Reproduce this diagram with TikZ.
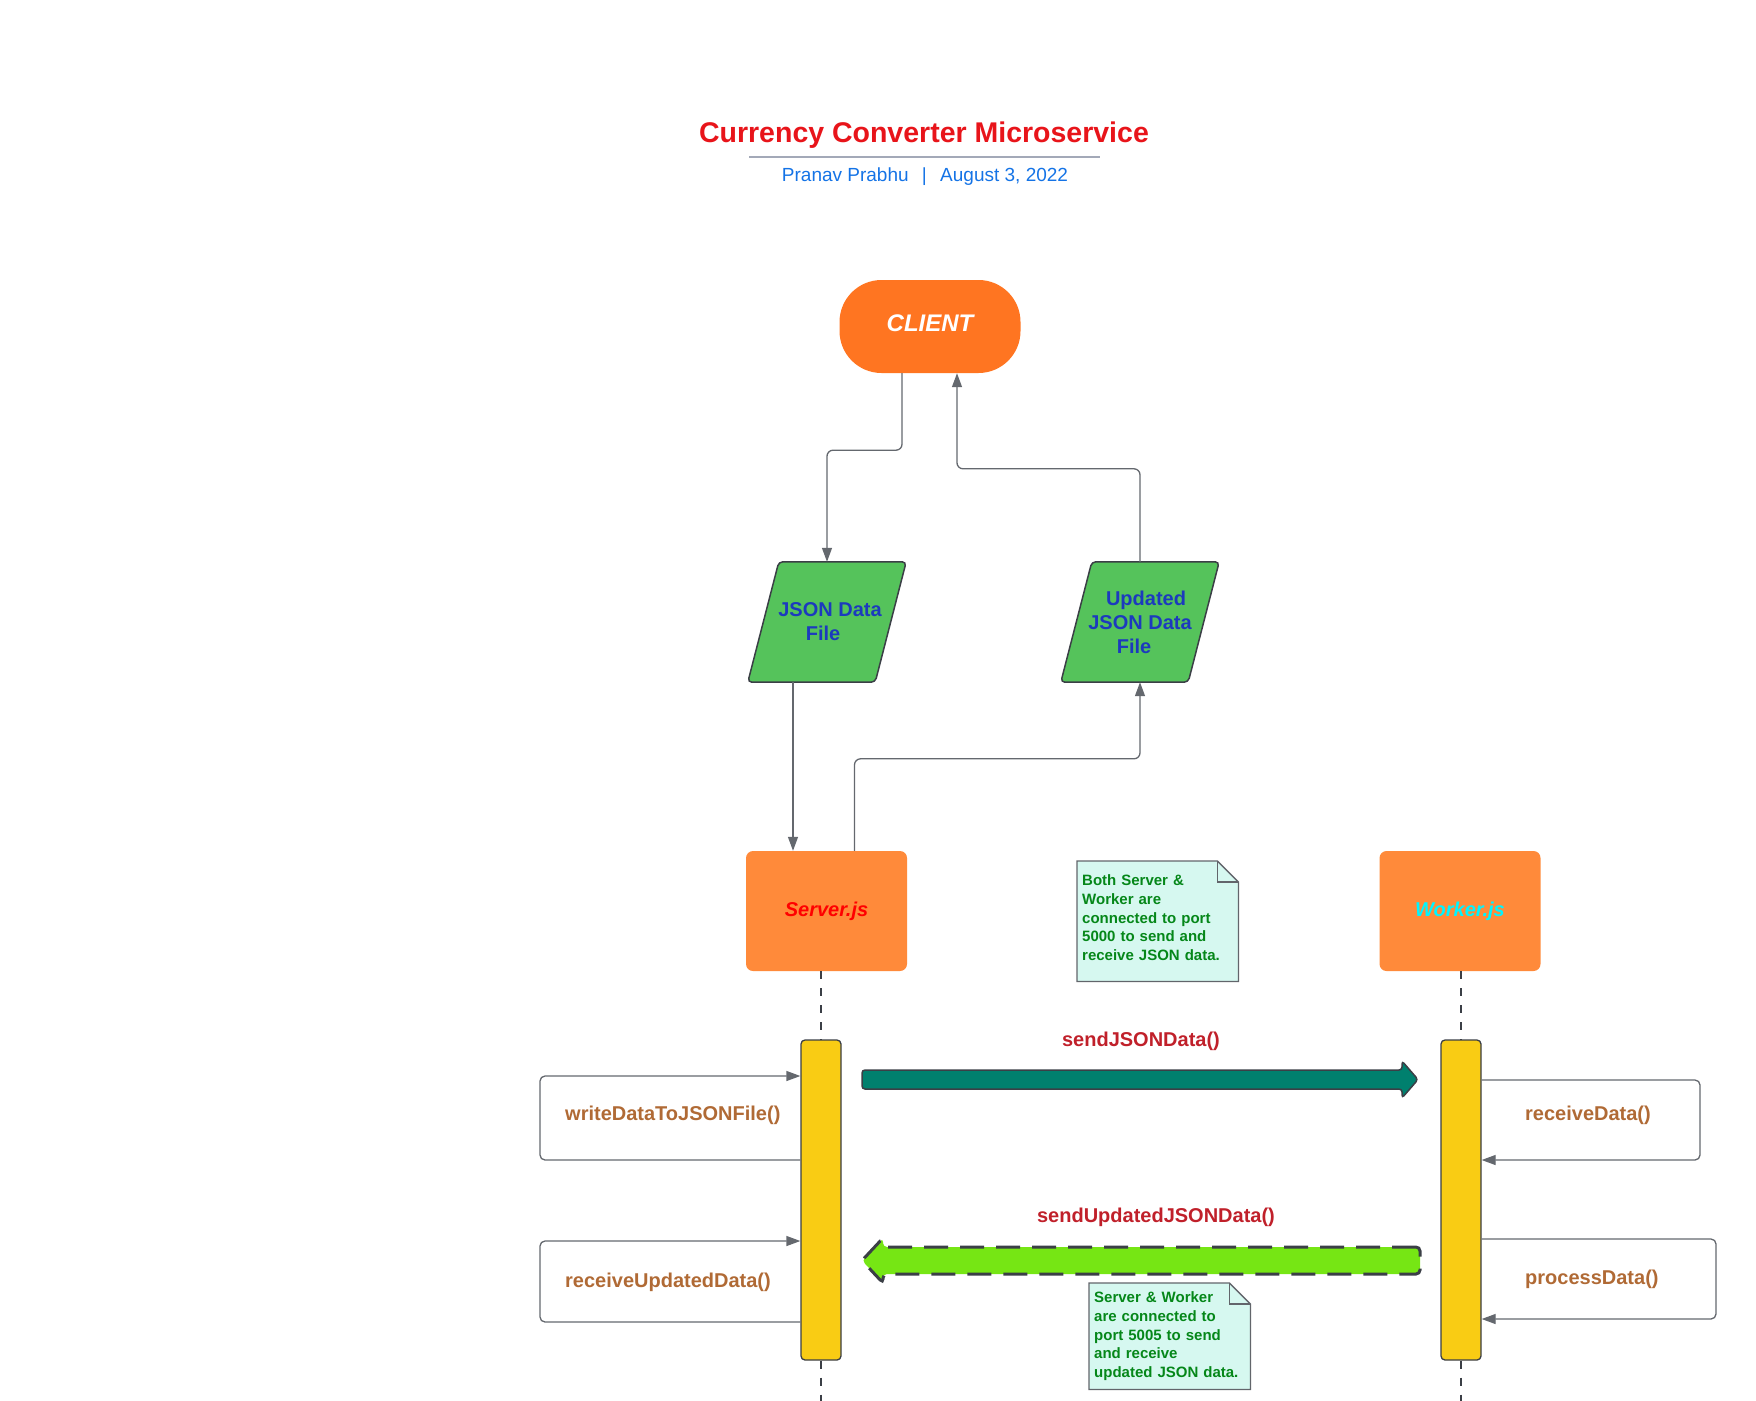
\documentclass[tikz,border=0pt]{standalone}
\usepackage{fontspec}
\setmainfont{Liberation Sans}
\usetikzlibrary{arrows.meta,backgrounds}
\definecolor{titlered}{RGB}{232,20,26}
\definecolor{subblue}{RGB}{20,115,230}
\definecolor{rulegray}{RGB}{163,169,184}
\definecolor{clientorange}{RGB}{255,117,33}
\definecolor{boxorange}{RGB}{255,138,58}
\definecolor{filegreen}{RGB}{85,195,91}
\definecolor{fileblue}{RGB}{28,58,190}
\definecolor{notefill}{RGB}{214,248,240}
\definecolor{notegreen}{RGB}{5,135,25}
\definecolor{workcyan}{RGB}{0,245,255}
\definecolor{baryellow}{RGB}{249,204,20}
\definecolor{teal}{RGB}{0,128,110}
\definecolor{lime}{RGB}{118,230,20}
\definecolor{msgred}{RGB}{192,32,42}
\definecolor{callbrown}{RGB}{176,106,53}
\definecolor{darkline}{RGB}{59,63,70}
\definecolor{linegray}{RGB}{100,104,110}
\begin{document}
\begin{tikzpicture}[x=1pt,y=-1pt,
    >={Triangle[length=14pt,width=10pt]},
    conn/.style={draw=linegray,line width=1.3pt,rounded corners=6pt},
    client/.style={fill=clientorange,rounded corners=42pt,minimum width=181,
      minimum height=93,text depth=6pt,text=white,
      font=\fontsize{24}{28}\selectfont\bfseries\itshape},
    datafile/.style={minimum width=158,minimum height=120,align=center,
      text=fileblue,font=\fontsize{20}{24}\selectfont\bfseries},
    filebox/.style={fill=filegreen,draw=darkline,line width=1.5pt,rounded corners=4pt},
    procbox/.style={fill=boxorange,rounded corners=7pt,minimum width=161,
      minimum height=120,text depth=4pt,font=\fontsize{20}{24}\selectfont\bfseries\itshape},
    actbar/.style={fill=baryellow,draw=darkline,line width=1.3pt,rounded corners=4pt,
      minimum width=40,minimum height=320,inner sep=0},
    lifeline/.style={draw=darkline,line width=2pt,dash pattern=on 8pt off 9pt},
    note/.style={minimum width=161,text width=151,inner xsep=5pt,inner ysep=0,
      align=left,text=notegreen,font=\fontsize{15}{18.7}\selectfont\bfseries},
    notebox/.style={fill=notefill,draw=darkline!80,line width=1.3pt},
    loopline/.style={draw=linegray,line width=1.3pt,rounded corners=5pt},
    msglabel/.style={text=msgred,font=\fontsize{20}{24}\selectfont\bfseries},
    calllabel/.style={text=callbrown,anchor=west,inner sep=0,
      font=\fontsize{20}{24}\selectfont\bfseries}]
\useasboundingbox (0,0) rectangle (1756,1400);

\node[text=titlered,font=\fontsize{28.5}{34}\selectfont\bfseries] (title) at (924,135)
  {Currency Converter Microservice};
\draw[rulegray,line width=1.5pt] (749,157) -- (1100,157);
\node[text=subblue,font=\fontsize{19}{23}\selectfont] (sub) at (925,177)
  {Pranav Prabhu\hspace{0.7em}|\hspace{0.7em}August 3, 2022};

\node[client] (client) at (930,326.5) {CLIENT};
\node[datafile] (jsonf) at (827,622) {\hspace*{6pt}JSON Data\\File\hspace*{8pt}};
\node[datafile] (upd) at (1140,622) {\hspace*{12pt}Updated\\JSON Data\\File\hspace*{12pt}};
\node[procbox,text=red] (server) at (826.5,911) {Server.js};
\node[procbox,text=workcyan] (worker) at (1460,911) {Worker.js};

\draw[conn,->] ([xshift=-28pt]client.south) -- ++(0,77) -| (jsonf.north);
\draw[conn,->] (upd.north) -- ++(0,-93) -| ([xshift=27pt]client.south);
\draw[conn,->] ([xshift=-34pt]jsonf.south) -- ([xshift=-34pt]jsonf.south |- server.north);
\draw[conn,->] ([xshift=28pt]server.north) -- ++(0,-92) -| (upd.south);

\node[note,anchor=north west,minimum height=120] (note1) at (1077,861)
  {Both Server \&\\Worker are\\connected to port\\5000 to send and\\receive JSON data.\par\vspace*{7pt}};
\node[note,anchor=north west,minimum height=106] (note2) at (1089,1283)
  {Server \& Worker\\are connected to\\port 5005 to send\\and receive\\updated JSON data.};
\begin{pgfonlayer}{background}
\foreach \n in {jsonf,upd}
  \draw[filebox] (\n.south west) -- ([xshift=31pt]\n.north west) -- (\n.north east)
    -- ([xshift=-31pt]\n.south east) -- cycle;
\foreach \n in {note1,note2} {
  \draw[notebox] (\n.north west) -- ([xshift=-21pt]\n.north east)
    -- ([yshift=-21pt]\n.north east) -- (\n.south east) -- (\n.south west) -- cycle;
  \draw[notebox,fill=none] ([xshift=-21pt]\n.north east) |- ([yshift=-21pt]\n.north east);
}
\end{pgfonlayer}

\node[actbar] (sbar) at (821,1200) {};
\node[actbar] (wbar) at (1461,1200) {};
\draw[lifeline] (server.south -| sbar.north) -- (sbar.north);
\draw[lifeline] (sbar.south) -- ++(0,40);
\draw[lifeline] (worker.south -| wbar.north) -- (wbar.north);
\draw[lifeline] (wbar.south) -- ++(0,40);

\draw[loopline,->] (sbar.west |- 0,1160) -- (540,1160) -- (540,1076) -- (sbar.west |- 0,1076);
\draw[loopline,->] (sbar.west |- 0,1322) -- (540,1322) -- (540,1241) -- (sbar.west |- 0,1241);
\draw[loopline,->] (wbar.east |- 0,1080) -- (1700,1080) -- (1700,1160) -- (wbar.east |- 0,1160);
\draw[loopline,->] (wbar.east |- 0,1239) -- (1716,1239) -- (1716,1319) -- (wbar.east |- 0,1319);
\node[calllabel] (wdata) at (565,1115) {writeDataToJSONFile()};
\node[calllabel] (rupd) at (565,1282) {receiveUpdatedData()};
\node[calllabel] (rdata) at (1525,1115) {receiveData()};
\node[calllabel] (pdata) at (1525,1279) {processData()};

\draw[fill=teal,draw=darkline,line width=1.5pt,rounded corners=3pt]
  (862,1070) -- (1402,1070) -- (1402,1061) -- (1418,1079.5) -- (1402,1098)
  -- (1402,1089) -- (862,1089) -- cycle;
\draw[fill=lime,draw=darkline,line width=3pt,dash pattern=on 24pt off 12pt,rounded corners=4pt]
  (1420,1247) -- (883,1247) -- (883,1238) -- (862,1260.5) -- (883,1283)
  -- (883,1274) -- (1420,1274) -- cycle;
\node[msglabel] (sjd) at (1141,1041) {sendJSONData()};
\node[msglabel] (sujd) at (1156,1217) {sendUpdatedJSONData()};
\end{tikzpicture}
\end{document}
